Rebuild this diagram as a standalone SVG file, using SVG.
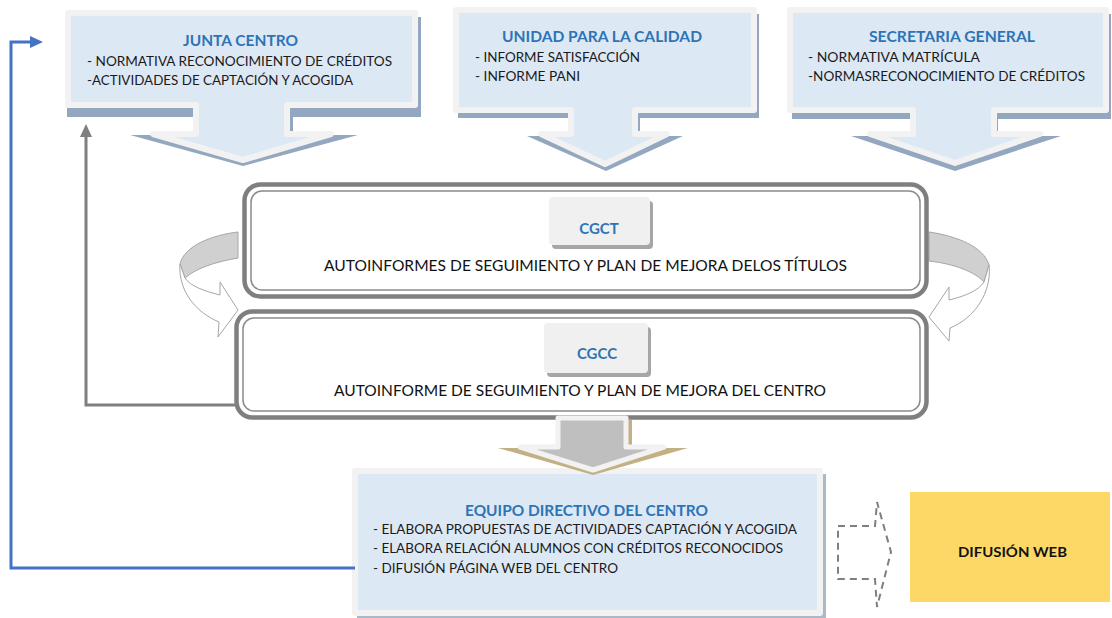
<svg xmlns="http://www.w3.org/2000/svg" width="1112" height="618" viewBox="0 0 1112 618">
<defs>
<style>
.sh{fill:#93a8c0}
.co{fill:#dde8f5;stroke:#f2f2f2;stroke-width:6;stroke-linejoin:round}
.tt{font-family:Lato,"Open Sans",sans-serif;font-weight:bold;fill:#2e74b5;font-size:15px}
.tx{font-family:Lato,"Open Sans",sans-serif;fill:#1a1a1a;font-size:14px}
.big{font-family:Lato,"Open Sans",sans-serif;fill:#111;font-size:15.5px}
.fo{fill:#fff;stroke:#7f7f7f;stroke-width:4.5}
.fi{fill:none;stroke:#8a8a8a;stroke-width:1.5}
.lb{fill:#f0f0f0}
.lbs{fill:#a6a6a6}
.band{fill:#d0d0d0;stroke:#a6a6a6;stroke-width:1}
.cw{fill:#fff;stroke:#a6a6a6;stroke-width:1}
</style>
<marker id="ahg" viewBox="0 0 13 12" refX="0" refY="6" markerWidth="13" markerHeight="12" markerUnits="userSpaceOnUse" orient="auto"><path d="M0,0 L13,6 L0,12 Z" fill="#7f7f7f"/></marker>
<marker id="ahb" viewBox="0 0 13 12" refX="0" refY="6" markerWidth="13" markerHeight="12" markerUnits="userSpaceOnUse" orient="auto"><path d="M0,0 L13,6 L0,12 Z" fill="#4472c4"/></marker>
</defs>
<rect width="1112" height="618" fill="#fff"/>

<g id="junta-centro">
<path class="sh" d="M67,17 H421 V117 H293 V135 H358 L243,166 L130,135 H196 V117 H67 Z"/>
<path class="co" d="M68,13 H415 V105 H287 V134 H331 L243,160 L153,134 H196 V105 H68 Z"/>
<text class="tt" x="183" y="46" textLength="115" lengthAdjust="spacingAndGlyphs">JUNTA CENTRO</text>
<text class="tx" x="87" y="66" textLength="305" lengthAdjust="spacingAndGlyphs">- NORMATIVA  RECONOCIMIENTO DE CRÉDITOS</text>
<text class="tx" x="87" y="85" textLength="266" lengthAdjust="spacingAndGlyphs">-ACTIVIDADES DE CAPTACIÓN Y ACOGIDA</text>
</g>

<g id="unidad-calidad">
<path class="sh" d="M458,14 H759 V118 H640 V136 H683 L606,171 L527,136 H572 V118 H458 Z"/>
<path class="co" d="M456,10 H754 V110 H635 V134 H667 L605,164 L541,134 H571 V110 H456 Z"/>
<text class="tt" x="502" y="42" textLength="200" lengthAdjust="spacingAndGlyphs">UNIDAD PARA LA CALIDAD</text>
<text class="tx" x="475" y="62" textLength="165" lengthAdjust="spacingAndGlyphs">- INFORME SATISFACCIÓN</text>
<text class="tx" x="475" y="81" textLength="105" lengthAdjust="spacingAndGlyphs">- INFORME PANI</text>
</g>

<g id="secretaria-general">
<path class="sh" d="M792,14 H1111 V119 H998 V136 H1061 L955,171 L851,136 H914 V119 H792 Z"/>
<path class="co" d="M790,10 H1106 V110 H994 V134 H1040 L955,163 L870,134 H913 V110 H790 Z"/>
<text class="tt" x="869" y="42" textLength="166" lengthAdjust="spacingAndGlyphs">SECRETARIA GENERAL</text>
<text class="tx" x="808" y="62" textLength="172" lengthAdjust="spacingAndGlyphs">- NORMATIVA  MATRÍCULA</text>
<text class="tx" x="808" y="81" textLength="277" lengthAdjust="spacingAndGlyphs">-NORMASRECONOCIMIENTO DE CRÉDITOS</text>
</g>

<g id="cycle-arrows">
<path class="band" d="M238,232 C212,235 184,246 180,264 L185,278 C195,269 214,262 238,258 Z"/>
<path class="cw" d="M180,264 C178,290 195,312 219,322 L218,337 L238,310 L220,282 L220,295 C204,291 190,286 185,278 Z"/>
<path class="band" d="M929,232 C957,236 984,247 989,265 L984,282 C975,272 955,264 929,261 Z"/>
<path class="cw" d="M989,265 C992,292 975,318 950,328 L949,341 L929,317 L949,287 L949,300 C966,296 979,290 984,282 Z"/>
</g>

<g id="cgct">
<rect class="fo" x="244.5" y="184.5" width="682" height="112" rx="16"/>
<rect class="fi" x="251" y="191" width="669" height="99" rx="11"/>
<rect class="lbs" x="552" y="201" width="101" height="48" rx="4"/>
<rect class="lb" x="549" y="197" width="101" height="48" rx="4"/>
<text class="tt" x="599" y="234" text-anchor="middle" font-size="14">CGCT</text>
<text class="big" x="324" y="271" textLength="523" lengthAdjust="spacingAndGlyphs">AUTOINFORMES DE SEGUIMIENTO Y PLAN DE MEJORA DELOS TÍTULOS</text>
</g>

<g id="cgcc">
<rect class="fo" x="236.5" y="311.5" width="690" height="106" rx="16"/>
<rect class="fi" x="243" y="318" width="677" height="93" rx="11"/>
<rect class="lbs" x="547" y="327" width="104" height="50" rx="4"/>
<rect class="lb" x="544" y="323" width="104" height="50" rx="4"/>
<text class="tt" x="597" y="359" text-anchor="middle" font-size="14">CGCC</text>
<text class="big" x="334" y="396" textLength="492" lengthAdjust="spacingAndGlyphs">AUTOINFORME DE SEGUIMIENTO Y PLAN DE MEJORA DEL CENTRO</text>
</g>

<g id="equipo-directivo">
<rect x="357" y="474" width="469" height="144" fill="#a9b9cc"/>
<rect class="co" x="355" y="471" width="465" height="142"/>
<text class="tt" x="465" y="516" textLength="243" lengthAdjust="spacingAndGlyphs">EQUIPO DIRECTIVO DEL CENTRO</text>
<text class="tx" x="373" y="534" textLength="424" lengthAdjust="spacingAndGlyphs">- ELABORA PROPUESTAS DE ACTIVIDADES  CAPTACIÓN Y ACOGIDA</text>
<text class="tx" x="373" y="553" textLength="410" lengthAdjust="spacingAndGlyphs">- ELABORA RELACIÓN ALUMNOS CON CRÉDITOS RECONOCIDOS</text>
<text class="tx" x="373" y="573" textLength="245" lengthAdjust="spacingAndGlyphs">- DIFUSIÓN PÁGINA  WEB DEL CENTRO</text>
</g>

<g id="down-arrow">
<path d="M556,420 V448 H498 L593,475 L688,448 H632 V420 Z" fill="#c2b184"/>
<path d="M558,418 V447 H520 L593,470 L664,447 H626 V418 Z" fill="#bfbfbf" stroke="#f2f2f2" stroke-width="5" stroke-linejoin="round"/>
</g>

<g id="difusion-web">
<rect x="910" y="492" width="200" height="110" fill="#fdd866"/>
<text x="958" y="557" textLength="109" lengthAdjust="spacingAndGlyphs" font-family="Lato,'Open Sans',sans-serif" font-weight="bold" font-size="14" fill="#111">DIFUSIÓN WEB</text>
</g>

<g id="connectors">
<polyline points="235,405 86,405 86,137" fill="none" stroke="#7f7f7f" stroke-width="3" marker-end="url(#ahg)"/>
<polyline points="355,568 11,568 11,42 30,42" fill="none" stroke="#4472c4" stroke-width="3" marker-end="url(#ahb)"/>
<path d="M838,526 H875 L877,502 L891,552 L877,607 L875,579 H838 Z" fill="none" stroke="#7f7f7f" stroke-width="2" stroke-dasharray="7,5"/>
</g>
</svg>
